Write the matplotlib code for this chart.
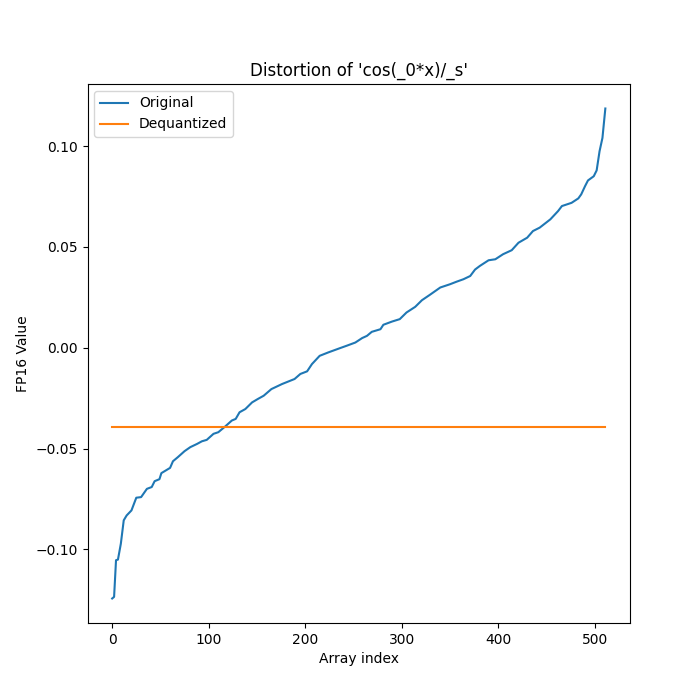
import numpy as np
import matplotlib
matplotlib.use('Agg')
import matplotlib.pyplot as plt

# values (index, value)
orig_index = [0, 2, 4, 6, 9, 12, 15, 20, 25, 30, 36, 41, 44, 49, 51, 60, 63, 68,
              75, 81, 88, 93, 98, 105, 110, 117, 124, 128, 132, 138, 145, 151,
              157, 165, 176, 189, 195, 202, 207, 215, 224, 236, 243, 252, 259,
              264, 269, 278, 281, 290, 298, 305, 314, 321, 329, 340, 350, 357,
              364, 371, 376, 381, 390, 397, 405, 414, 421, 430, 436, 443, 454,
              462, 466, 476, 483, 486, 490, 493, 499, 502, 505, 508, 511]
orig_value = [-0.1244, -0.1236, -0.1054, -0.1051, -0.0972, -0.0856, -0.0832,
              -0.0807, -0.0744, -0.0741, -0.0700, -0.0691, -0.0662, -0.0652,
              -0.0622, -0.0596, -0.0563, -0.0543, -0.0513, -0.0493, -0.0477,
              -0.0464, -0.0457, -0.0427, -0.0419, -0.0391, -0.0361, -0.0353,
              -0.0320, -0.0304, -0.0271, -0.0254,
              -0.0238, -0.0205, -0.0180, -0.0155, -0.0130, -0.0117, -0.0081,
              -0.0040, -0.0023, -0.0002, 0.0010, 0.0026, 0.0048, 0.0059, 0.0079,
              0.0092, 0.0114, 0.0130, 0.0142, 0.0175, 0.0203, 0.0236, 0.0262,
              0.0299, 0.0315, 0.0328, 0.0340, 0.0356, 0.0388, 0.0406, 0.0434,
              0.0439, 0.0464, 0.0484, 0.0521, 0.0546, 0.0579, 0.0596, 0.0637,
              0.0678, 0.0703, 0.0719, 0.0741, 0.0761, 0.0802, 0.0830, 0.0851,
              0.0880, 0.0975, 0.1041, 0.1187]

n_values = 512
dequant_value = -0.0395

fig = plt.figure(figsize=(7, 7), dpi=100)
plt.plot(orig_index, orig_value, label='Original')
plt.plot([0, n_values - 1], [dequant_value, dequant_value], label='Dequantized')

plt.title("Distortion of 'cos(_0*x)/_s'")
plt.xlabel('Array index')
plt.ylabel('FP16 Value')
plt.legend(loc='upper left')

plt.savefig('out.png')
